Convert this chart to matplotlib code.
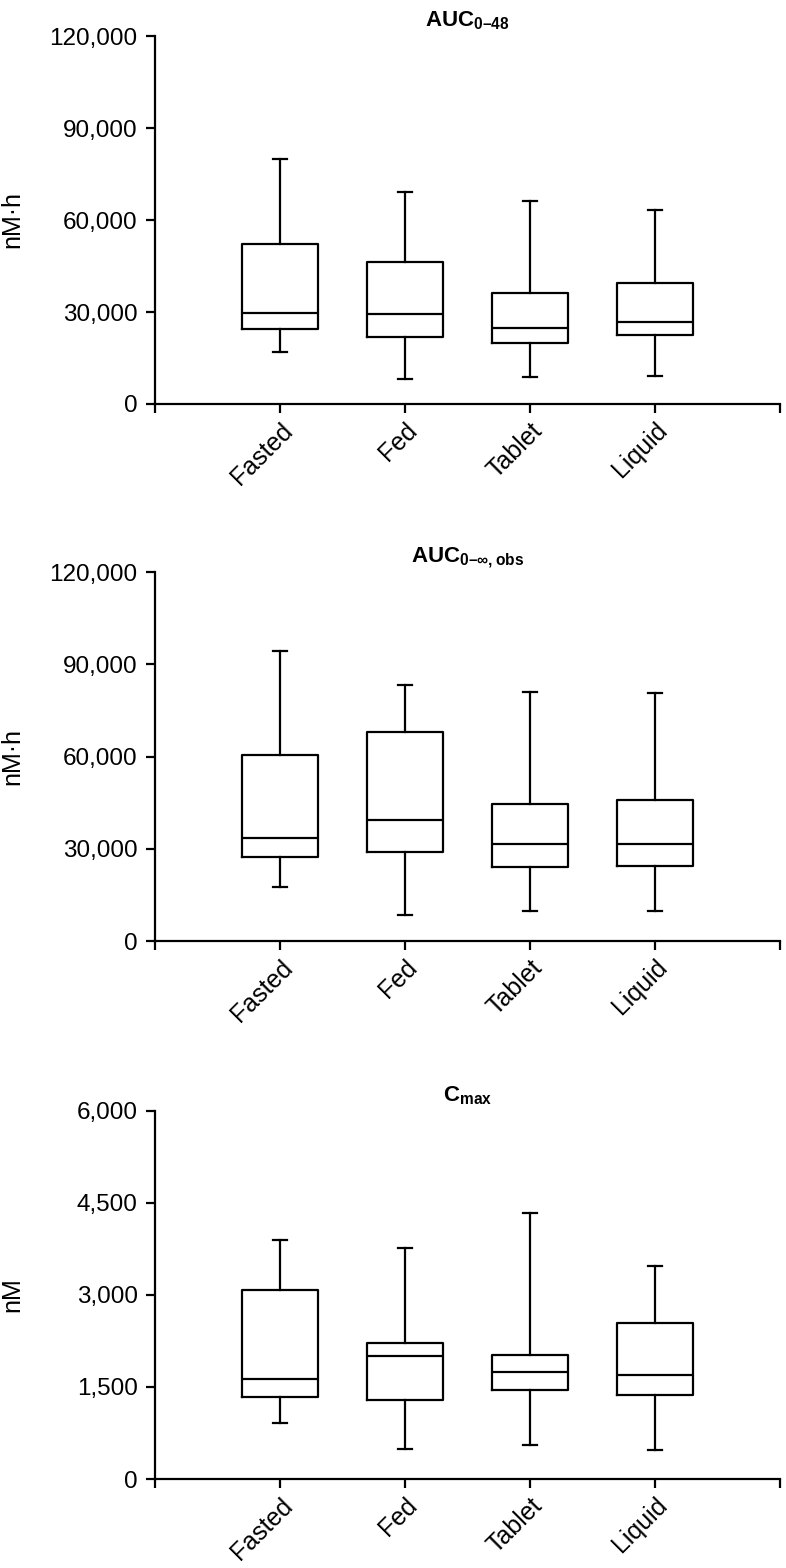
import matplotlib
matplotlib.use("Agg")
import matplotlib.pyplot as plt
from matplotlib.ticker import FuncFormatter

categories = ["Fasted", "Fed", "Tablet", "Liquid"]

# AUC 0-48 (nM·h)
auc48_low = [17000, 8300, 8700, 9100]
auc48_q1 = [24300, 22000, 19800, 22500]
auc48_med = [29800, 29200, 24700, 26600]
auc48_q3 = [52200, 46300, 36300, 39600]
auc48_high = [80000, 69000, 66100, 63300]

# AUC 0-inf,obs (nM·h)
aucinf_low = [17600, 8600, 9700, 9800]
aucinf_q1 = [27400, 28900, 24100, 24300]
aucinf_med = [33500, 39300, 31500, 31400]
aucinf_q3 = [60500, 67900, 44700, 45800]
aucinf_high = [94200, 83400, 81000, 80600]

# Cmax (nM)
cmax_low = [920, 490, 550, 480]
cmax_q1 = [1330, 1290, 1450, 1370]
cmax_med = [1630, 2010, 1750, 1690]
cmax_q3 = [3080, 2220, 2020, 2545]
cmax_high = [3900, 3760, 4335, 3470]

yticks_auc = [0, 30000, 60000, 90000, 120000]
yticks_cmax = [0, 1500, 3000, 4500, 6000]

plt.rcParams["font.family"] = ["Liberation Sans", "DejaVu Sans"]
plt.rcParams["mathtext.fontset"] = "custom"
plt.rcParams["mathtext.rm"] = "Liberation Sans"
plt.rcParams["mathtext.bf"] = "Liberation Sans:bold"

W, H = 786, 1568
fig = plt.figure(figsize=(W / 100, H / 100), dpi=100)

panels = [
    (36, 404, r"$\mathbf{AUC}_{\mathbf{0–48}}$", "nM·h", auc48_low, auc48_q1, auc48_med, auc48_q3, auc48_high, yticks_auc),
    (572, 941, r"$\mathbf{AUC}_{\mathbf{0–\infty,obs}}$", "nM·h", aucinf_low, aucinf_q1, aucinf_med, aucinf_q3, aucinf_high, yticks_auc),
    (1111, 1479, r"$\mathbf{C}_{\mathbf{max}}$", "nM", cmax_low, cmax_q1, cmax_med, cmax_q3, cmax_high, yticks_cmax),
]

left_px, right_px = 155, 780
for top, bottom, title, ylabel, lo, q1, med, q3, hi, yt in panels:
    ax = fig.add_axes([left_px / W, 1 - bottom / H, (right_px - left_px) / W, (bottom - top) / H])
    stats = []
    for i, c in enumerate(categories):
        stats.append(dict(label=c, whislo=lo[i], q1=q1[i], med=med[i], q3=q3[i], whishi=hi[i], fliers=[]))
    lw = 1.6
    ax.bxp(stats, positions=[1, 2, 3, 4], widths=0.61, capwidths=0.11, showfliers=False,
           boxprops=dict(color="black", linewidth=lw),
           whiskerprops=dict(color="black", linewidth=lw),
           capprops=dict(color="black", linewidth=lw),
           medianprops=dict(color="black", linewidth=lw))
    ax.set_xlim(0, 5)
    ax.set_ylim(yt[0], yt[-1])
    ax.set_xticks([0, 1, 2, 3, 4, 5])
    ax.set_xticklabels([""] + categories + [""], rotation=45, ha="right", rotation_mode="anchor",
                       fontsize=18)
    ax.set_yticks(yt)
    ax.yaxis.set_major_formatter(FuncFormatter(lambda v, p: f"{int(v):,}"))
    ax.tick_params(axis="y", labelsize=17.5, pad=6)
    ax.spines["top"].set_visible(False)
    ax.spines["right"].set_visible(False)
    ax.spines["left"].set_linewidth(1.6)
    ax.spines["bottom"].set_linewidth(1.6)
    ax.tick_params(axis="both", direction="out", length=6.5, width=1.6, colors="black")
    ax.tick_params(axis="x", pad=4)
    ax.set_ylabel(ylabel, fontsize=18, va="center")
    ax.yaxis.set_label_coords((12 - left_px) / (right_px - left_px), 0.5)
    ax.set_title(title, fontsize=16, pad=7)
    ax.patch.set_visible(False)
    for a in ax.get_children():
        if hasattr(a, "set_clip_on"):
            a.set_clip_on(False)

fig.savefig("out.png", dpi=100)
